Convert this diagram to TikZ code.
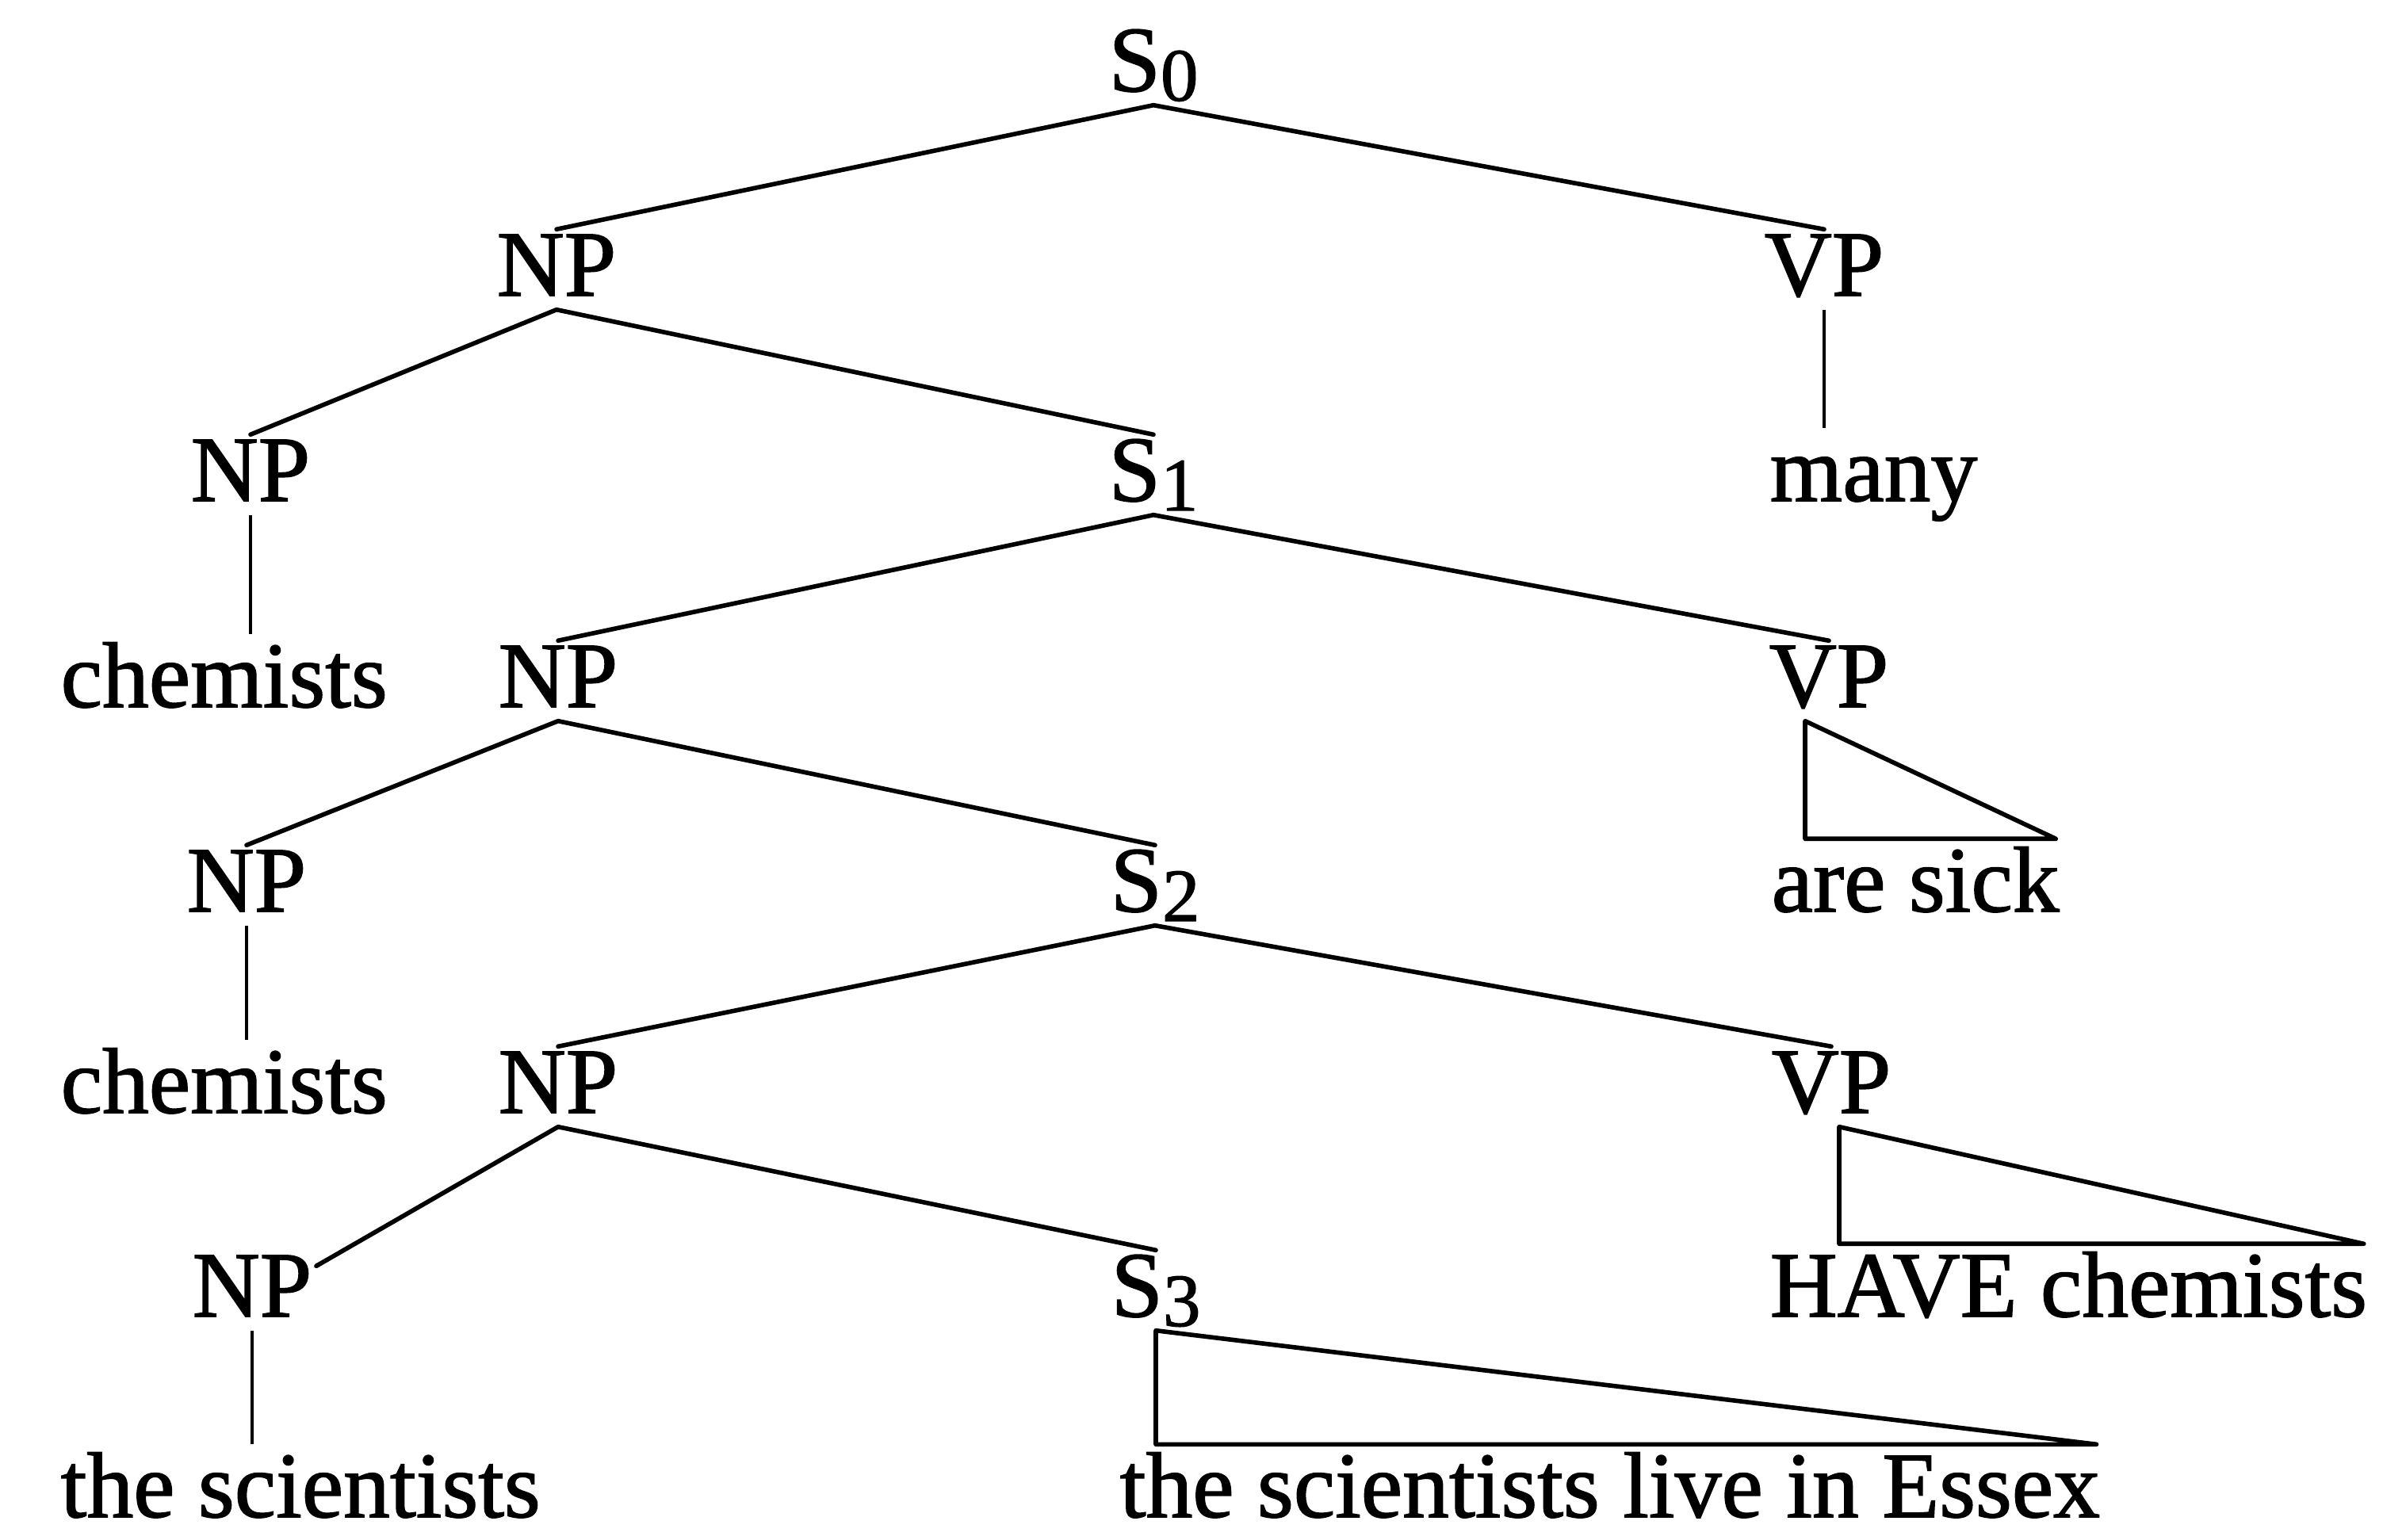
\documentclass[tikz,border=0pt]{standalone}
\usepackage{fontspec}
\setmainfont{Liberation Serif}[FakeBold=1.3]
\usetikzlibrary{calc}
\newcommand{\idx}[1]{\raisebox{-0.12cm}{\fontsize{27}{27}\selectfont #1}}
\tikzset{
  cat/.style    = {inner sep=0.5mm, text height=0.78cm, text depth=0.12cm,
                   anchor=base, font=\fontsize{33.5}{40}\selectfont},
  word/.style   = {cat, text height=0.86cm, anchor=base west},
  branch/.style = {line width=1.6pt, line cap=round, line join=round},
  stem/.style   = {line width=1.1pt},
}
% a flat triangle standing for an unanalysed constituent
\newcommand{\roof}[3]{%
  \draw[branch] ([xshift=#3]#1.south) -- ([xshift=#3]#1.south |- #2.north)
    -- ([xshift=-0.1cm]#2.north east) -- cycle;
}
\begin{document}
\begin{tikzpicture}
  \useasboundingbox (0,-0.2) rectangle (30.06,19.22);

  % labels, row by row
  \node[cat]  (s0)    at (14.55,18.07) {S\idx{0}};
  \node[cat]  (np1)   at (7.02,15.49)  {NP};
  \node[cat]  (vp1)   at (23.01,15.49) {VP};
  \node[cat]  (np2)   at (3.16,12.90)  {NP};
  \node[cat]  (s1)    at (14.55,12.90) {S\idx{1}};
  \node[word] (many)  at (22.27,12.90) {many};
  \node[word] (chem1) at (0.71,10.30)  {chemists};
  \node[cat]  (np3)   at (7.04,10.30)  {NP};
  \node[cat]  (vp3)   at (23.07,10.30) {VP};
  \node[cat]  (np4)   at (3.11,7.72)   {NP};
  \node[cat]  (s2)    at (14.57,7.72)  {S\idx{2}};
  \node[word] (sick)  at (22.29,7.72)  {are sick};
  \node[word] (chem2) at (0.71,5.18)   {chemists};
  \node[cat]  (np5)   at (7.04,5.18)   {NP};
  \node[cat]  (vp5)   at (23.10,5.18)  {VP};
  \node[cat]  (np6)   at (3.18,2.61)   {NP};
  \node[cat]  (s3)    at (14.58,2.61)  {S\idx{3}};
  \node[word] (have)  at (22.27,2.61)  {HAVE chemists};
  \node[word, text depth=0pt] (sci)   at (0.71,0.08) {the scientists};
  \node[word, text depth=0pt] (essex) at (14.07,0.08) {the scientists live in Essex};

  % branches
  \draw[branch] (np1.north) -- (s0.south) -- (vp1.north);
  \draw[branch] (np2.north) -- (np1.south) -- (s1.north);
  \draw[stem]   (vp1.south) -- (vp1.south |- many.north);
  \draw[stem]   (np2.south) -- (np2.south |- chem1.north);
  \draw[branch] (np3.north) -- (s1.south) -- (vp3.north);
  \draw[branch] (np4.north) -- (np3.south) -- (s2.north);
  \roof{vp3}{sick}{-0.3cm}
  \draw[stem]   (np4.south) -- (np4.south |- chem2.north);
  \draw[branch] (np5.north) -- (s2.south) -- (vp5.north);
  \draw[branch] ([yshift=-0.2cm]np6.north east) -- (np5.south) -- (s3.north);
  \roof{vp5}{have}{0.1cm}
  \draw[stem]   (np6.south) -- (np6.south |- sci.north);
  \roof{s3}{essex}{0cm}
\end{tikzpicture}
\end{document}
